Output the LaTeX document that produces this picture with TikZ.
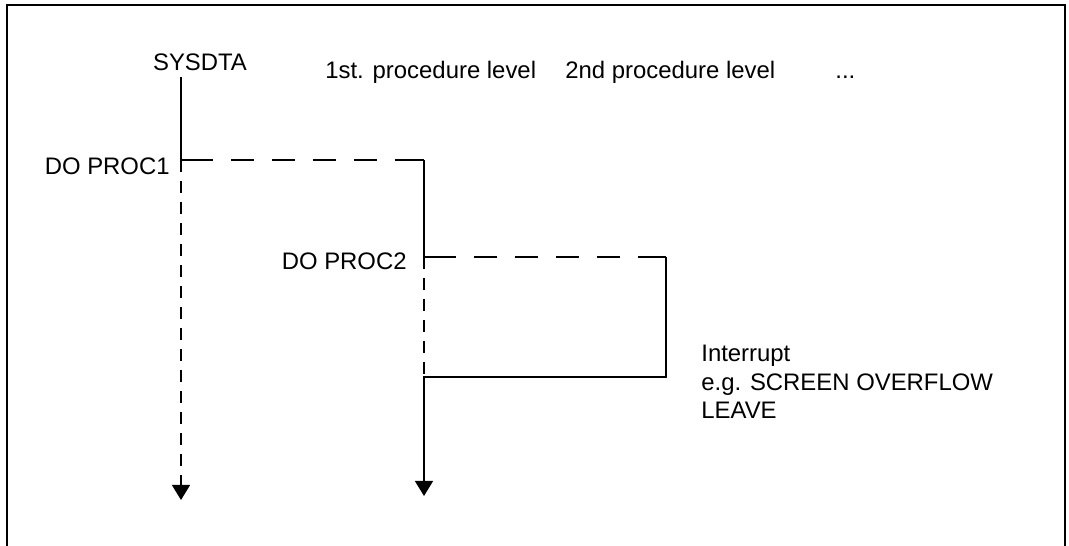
\documentclass[tikz,border=0pt]{standalone}
\usepackage{fontspec}
\setmainfont{Liberation Sans}
\usetikzlibrary{arrows.meta,positioning}

\begin{document}
\begin{tikzpicture}[x=0.02cm, y=-0.02cm]
        \tikzstyle{txt}=[inner sep=0pt, font=\fontsize{13.6}{16.2}\selectfont];
        \tikzstyle{flow}=[line width=0.75pt, black];
        \tikzstyle{calldash}=[dash pattern=on 0.64cm off 0.36cm on 0.46cm off 0.36cm on 0.46cm off 0.36cm on 0.46cm off 0.36cm on 0.46cm off 0.36cm on 1cm];
        \tikzstyle{waitdash}=[dash pattern=on 0.24cm off 0.18cm];
        \tikzstyle{tip}=[-{Triangle[length=0.3cm, width=0.36cm]}];

        \useasboundingbox (0,0) rectangle (1069,546);
        \draw[line width=1.1pt] (7,546) -- (7,5) -- (1065,5) -- (1065,546);

        \node[txt, anchor=base] (sysdta) at (200,71) {SYSDTA};
        \node[txt, anchor=base west] (level1) at (325,78.5) {1st. procedure level};
        \node[txt, anchor=base west] (level2) at (565,78.5) {2nd procedure level};
        \node[txt, anchor=base west] (more) at (835,78.5) {...};
        \node[txt, anchor=base east] (proc1) at (170,175) {DO PROC1};
        \node[txt, anchor=base east] (proc2) at (407,270) {DO PROC2};
        \node[txt, anchor=north west, align=left] (intr) at (701,345) {Interrupt\\e.g. SCREEN OVERFLOW\\LEAVE};

        \coordinate (top) at (181,77);
        \coordinate (p1) at (181,160);
        \coordinate (p1r) at (424,160);
        \coordinate (p2) at (424,257);
        \coordinate (p2r) at (666,257);
        \coordinate (ret) at (666,377);
        \coordinate (back) at (424,377);
        \coordinate (end1) at (181,500);
        \coordinate (end2) at (424,496);

        \draw (top) edge[flow] (p1);
        \draw (p1) edge[flow, calldash] (p1r);
        \draw (p1r) edge[flow] (p2);
        \draw (p2) edge[flow, calldash] (p2r);
        \draw[flow, tip] (p2r) -- (ret) -- (back) -- (end2);
        \draw (p1) edge[flow, waitdash, tip] (end1);
        \draw (p2) edge[flow, waitdash] (back);
    \end{tikzpicture}
\end{document}
